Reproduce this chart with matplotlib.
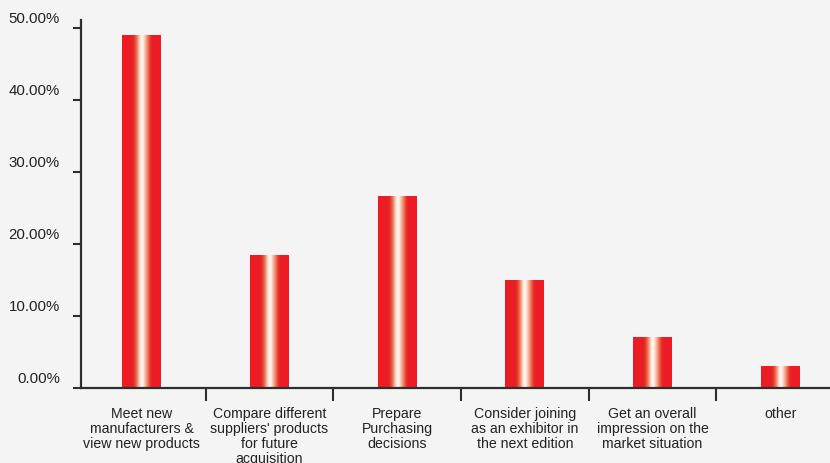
import numpy as np
import matplotlib
matplotlib.use("Agg")
import matplotlib.pyplot as plt
from matplotlib.colors import LinearSegmentedColormap
from matplotlib.transforms import ScaledTranslation, blended_transform_factory

categories = [
    "Meet new\nmanufacturers &\nview new products",
    "Compare different\nsuppliers' products\nfor future\nacquisition",
    "Prepare\nPurchasing\ndecisions",
    "Consider joining\nas an exhibitor in\nthe next edition",
    "Get an overall\nimpression on the\nmarket situation",
    "other",
]
values = [49.0, 18.4, 26.6, 15.0, 7.0, 3.0]
yticks = [0, 10, 20, 30, 40, 50]
ytick_labels = ["0.00%", "10.00%", "20.00%", "30.00%", "40.00%", "50.00%"]

plt.rcParams['font.family'] = ['Liberation Sans', 'DejaVu Sans']
text_color = "#222222"
axis_color = "#2e2e2e"

fig = plt.figure(figsize=(8.30, 4.64), dpi=100)
fig.patch.set_facecolor("#f4f4f4")
ax = fig.add_axes([0.0971, 0.1623, 0.9029, 0.7924])
ax.set_facecolor("none")

x = np.arange(len(categories))
bars = ax.bar(x, values, width=0.305, facecolor="none", edgecolor="none")

cmap = LinearSegmentedColormap.from_list("barfill", [
    (0.00, "#ed1c24"), (0.24, "#ed1c24"), (0.30, "#de2c26"),
    (0.37, "#ec6a4e"), (0.43, "#f7b39a"), (0.48, "#fff4ec"),
    (0.53, "#fff6f0"), (0.59, "#f9c2ac"), (0.66, "#f07a5e"),
    (0.73, "#e6342a"), (0.78, "#ed1c24"), (1.00, "#ed1c24")])
grad = np.linspace(0, 1, 256).reshape(1, -1)
for b in bars:
    x0, w, h = b.get_x(), b.get_width(), b.get_height()
    im = ax.imshow(grad, cmap=cmap, aspect="auto", extent=(x0, x0 + w, 0, h),
                   interpolation="bilinear", zorder=2)
    im.set_clip_path(b)

ax.set_xlim(-0.48, 5.39)
ax.set_ylim(0, 51.1)

for s in ["top", "right"]:
    ax.spines[s].set_visible(False)
for s in ["left", "bottom"]:
    ax.spines[s].set_color(axis_color)
    ax.spines[s].set_linewidth(1.6)
    ax.spines[s].set_zorder(3)

ax.set_yticks(yticks)
ax.set_yticklabels(ytick_labels, fontsize=10.8, color=text_color)
ax.tick_params(axis="y", length=6, width=1.5, color=axis_color, pad=9, direction="out")
for lab in ax.get_yticklabels():
    lab.set_transform(lab.get_transform() + ScaledTranslation(0, 8 / 72, fig.dpi_scale_trans))

ax.set_xticks(x[:-1] + 0.5)
ax.set_xticklabels([])
ax.tick_params(axis="x", length=9, width=1.5, color=axis_color, direction="out")

trans = blended_transform_factory(ax.transData, ax.transAxes)
for xi, lab in zip(x, categories):
    ax.annotate(lab, xy=(xi, 0), xycoords=trans, xytext=(0, -13.5),
                textcoords="offset points", ha="center", va="top",
                fontsize=10.2, color=text_color, linespacing=1.07,
                annotation_clip=False)

fig.savefig("out.png", dpi=100, facecolor=fig.get_facecolor())
